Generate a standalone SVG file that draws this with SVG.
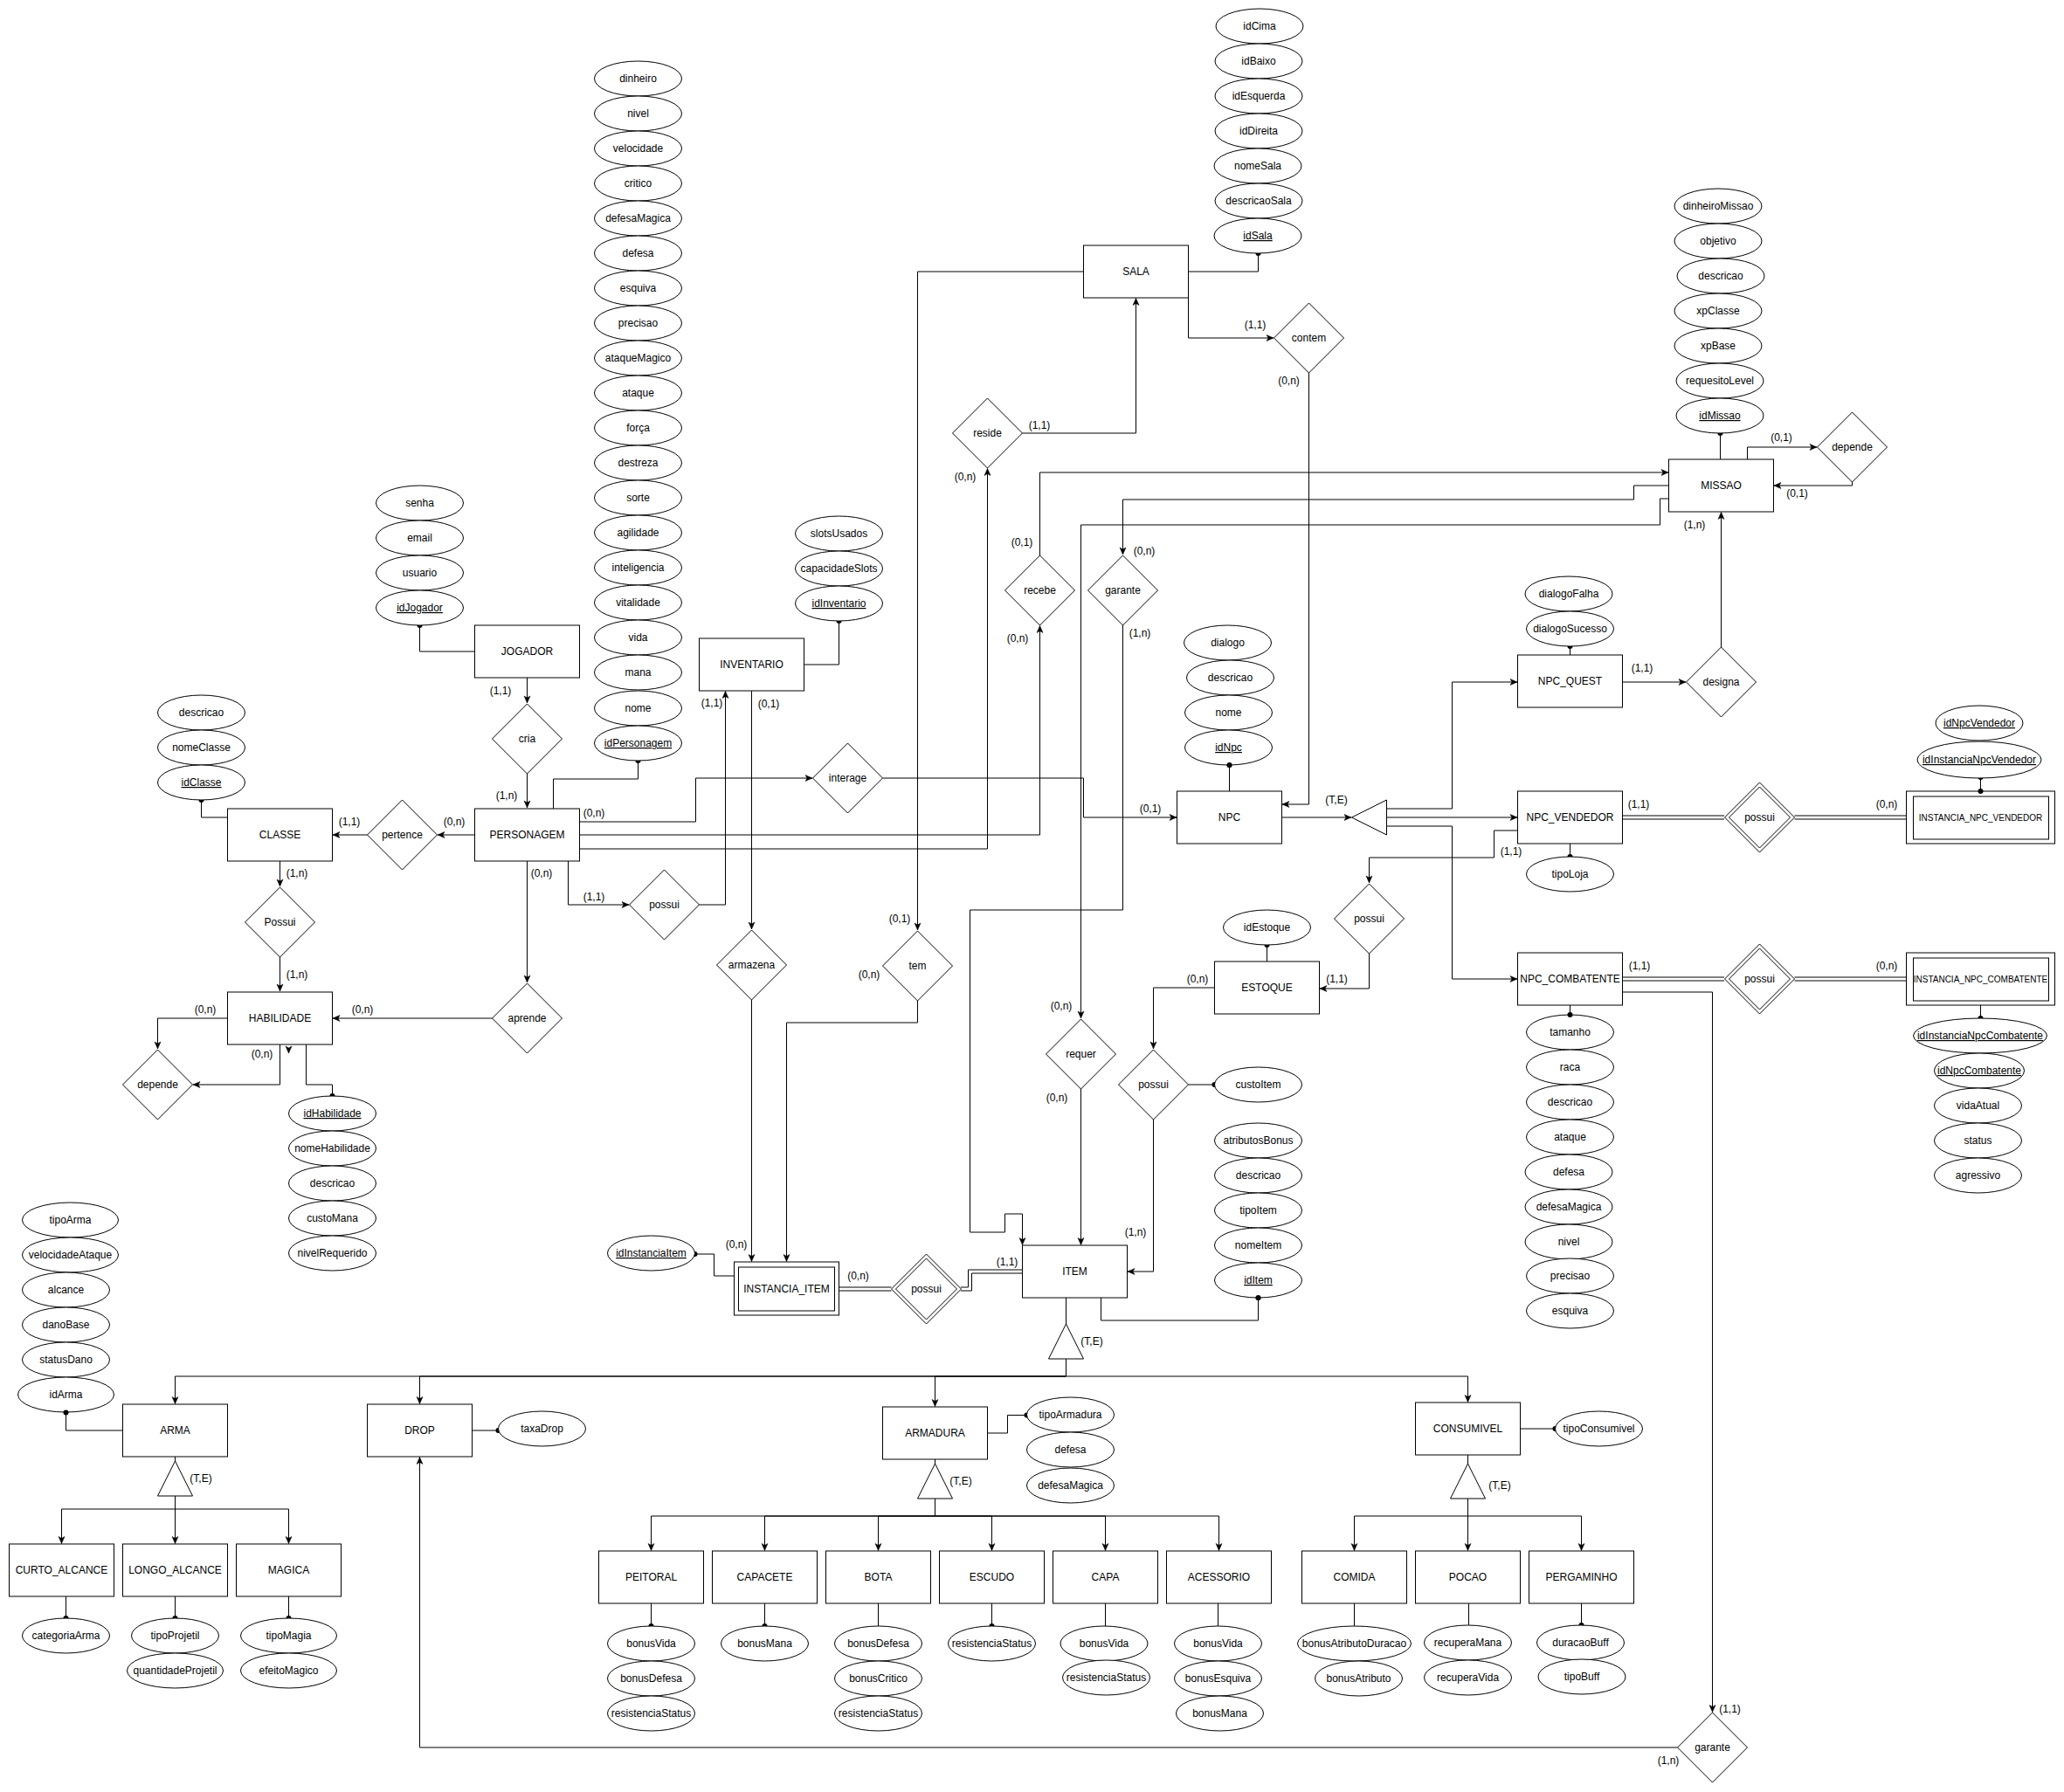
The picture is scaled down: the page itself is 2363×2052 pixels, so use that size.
<svg xmlns="http://www.w3.org/2000/svg" width="2363" height="2052" viewBox="0 0 2363 2052">
<style>
text{font-family:"Liberation Sans",Arial,sans-serif;font-size:12px;fill:#000;text-anchor:middle}
.u{text-decoration:underline}
.s{font-size:10px}
rect,ellipse,polygon.n{fill:#fff;stroke:#000;stroke-width:1}
#connectors path{fill:none;stroke:#000;stroke-width:1}
#connectors path.a{marker-end:url(#arrow)}
#connectors path.o{marker-end:url(#dot)}
</style>
<defs>
<marker id="arrow" markerUnits="userSpaceOnUse" markerWidth="9" markerHeight="9" refX="8" refY="4" orient="auto" overflow="visible"><path d="M8,4 L0,0.5 L2,4 L0,7.5 Z" fill="#000" stroke="#000" stroke-width="0.5"/></marker>
<marker id="dot" markerUnits="userSpaceOnUse" markerWidth="8" markerHeight="8" refX="4" refY="4" orient="auto"><circle cx="4" cy="4" r="3" fill="#000"/></marker>
</defs>
<rect x="0" y="0" width="2363" height="2052" style="stroke:none"/>
<g id="connectors">
<path class="o" d="M543.5,746H480.5V716"/>
<path class="a" d="M603.5,776V805"/>
<path class="a" d="M603.5,886V925"/>
<path class="o" d="M633.5,926V892H730.5V871"/>
<path class="a" d="M543.5,956H501"/>
<path class="a" d="M420.5,956H381"/>
<path class="o" d="M260.5,936H230.5V916"/>
<path class="a" d="M320.5,986V1015"/>
<path class="a" d="M320.5,1096V1135"/>
<path class="a" d="M603.5,986V1125"/>
<path class="a" d="M563.5,1166H381"/>
<path class="a" d="M260.5,1166H180.5V1201"/>
<path class="a" d="M320.5,1196V1242H221"/>
<path class="a" d="M330.5,1200V1206"/>
<path class="o" d="M350.5,1196V1242H380.5V1255"/>
<path class="a" d="M650.5,986V1036H720"/>
<path class="a" d="M800.5,1036H830.5V791.5"/>
<path class="a" d="M663.5,941H796.5V891H930"/>
<path class="a" d="M1010.5,891H1240.5V936H1347"/>
<path class="a" d="M663.5,956H1190.5V716.5"/>
<path class="a" d="M663.5,972H1130.5V536.5"/>
<path class="o" d="M920.5,761H960.5V711"/>
<path class="a" d="M860.5,791V1064"/>
<path class="a" d="M860.5,1145V1444.5"/>
<path class="a" d="M1170.5,496H1300.5V341.5"/>
<path class="a" d="M1240.5,311H1050.5V1065"/>
<path class="a" d="M1050.5,1146V1171H900.5V1444.5"/>
<path class="o" d="M1360.5,311H1440.5V290"/>
<path class="a" d="M1360.5,341V387H1458"/>
<path class="a" d="M1498.5,427V921H1468"/>
<path class="a" d="M1190.5,636V541H1910"/>
<path class="a" d="M1910.5,556H1870.5V572H1285.5V635"/>
<path class="a" d="M1910.5,571H1900.5V601H1237.5V1166"/>
<path class="a" d="M1237.5,1247V1425.5"/>
<path class="a" d="M1285.5,716V1042H1110.5V1411H1150.5V1390H1170.5V1425.5"/>
<path class="o" d="M1407.5,906V876"/>
<path class="a" d="M1467.5,936H1547"/>
<path class="a" d="M1587.5,926H1662.5V781H1737"/>
<path class="a" d="M1587.5,936H1737"/>
<path class="a" d="M1587.5,946H1662.5V1121H1737"/>
<path class="o" d="M1797.5,750V740"/>
<path class="a" d="M1857.5,781H1930"/>
<path class="a" d="M1970.5,741V586.5"/>
<path class="o" d="M1969.5,526V496"/>
<path class="a" d="M2000.5,526V512H2080"/>
<path class="a" d="M2120.5,552V556H2031"/>
<path class="o" d="M1797.5,966V981"/>
<path class="a" d="M1737.5,951H1710.5V982H1567.5V1011"/>
<path class="a" d="M1567.5,1092V1132H1511"/>
<path class="a" d="M1390.5,1131H1320.5V1201"/>
<path class="a" d="M1320.5,1282V1456H1291"/>
<path class="o" d="M1360.5,1242H1390.5"/>
<path class="o" d="M1450.5,1101V1082"/>
<path class="o" d="M1260.5,1486V1512H1440.5V1486"/>
<path d="M1857.5,934H1974M1857.5,938H1974M2054.5,934H2182.5M2054.5,938H2182.5"/>
<path d="M1857.5,1119H1974M1857.5,1123H1974M2054.5,1119H2182.5M2054.5,1123H2182.5"/>
<path d="M960.5,1474H1020.5M960.5,1478H1020.5"/>
<path d="M1100,1474H1108.5V1454H1170.5M1100,1478H1112.5V1458H1170.5"/>
<path class="o" d="M2267.5,906V890"/>
<path class="o" d="M2267.5,1151V1166"/>
<path d="M1797.5,1151V1162"/>
<path class="a" d="M1857.5,1136H1960.5V1960.5"/>
<path class="a" d="M1920.5,2001H480.5V1668.5"/>
<path class="o" d="M840.5,1461H817.5V1436H795.5"/>
<path d="M1220.5,1486V1516"/>
<path d="M1220.5,1556V1576"/>
<path class="a" d="M1220.5,1576H200.5V1607.5"/>
<path class="a" d="M1220.5,1576H480.5V1607.5"/>
<path class="a" d="M1220.5,1576H1070.5V1610.5"/>
<path class="a" d="M1220.5,1576H1680.5V1605.5"/>
<path d="M140.5,1638H75.5V1617"/>
<path class="o" d="M540.5,1638H570.5"/>
<path d="M200.5,1668V1673"/>
<path class="a" d="M200.5,1713V1767.5"/>
<path class="a" d="M200.5,1728H70.5V1767.5"/>
<path class="a" d="M200.5,1728H330.5V1767.5"/>
<path class="o" d="M75.5,1828V1853"/>
<path class="o" d="M200.5,1828V1853"/>
<path class="o" d="M330.5,1828V1853"/>
<path class="o" d="M1130.5,1641H1153.5V1620.5H1175.5"/>
<path d="M1070.5,1671V1676"/>
<path d="M1070.5,1716V1736"/>
<path class="a" d="M1070.5,1736H745.5V1775.5"/>
<path class="a" d="M1070.5,1736H875.5V1775.5"/>
<path class="a" d="M1070.5,1736H1005.5V1775.5"/>
<path class="a" d="M1070.5,1736H1135.5V1775.5"/>
<path class="a" d="M1070.5,1736H1265.5V1775.5"/>
<path class="a" d="M1070.5,1736H1395.5V1775.5"/>
<path class="o" d="M745.5,1836V1862"/>
<path class="o" d="M875.5,1836V1862"/>
<path d="M1005.5,1836V1862"/>
<path class="o" d="M1135.5,1836V1862"/>
<path d="M1265.5,1836V1862"/>
<path d="M1394.5,1836V1862"/>
<path d="M1550.5,1836V1862"/>
<path class="o" d="M1740.5,1636H1780.5"/>
<path d="M1680.5,1666V1676"/>
<path class="a" d="M1680.5,1716V1775.5"/>
<path class="a" d="M1680.5,1736H1550.5V1775.5"/>
<path class="a" d="M1680.5,1736H1810.5V1775.5"/>
<path d="M1681.5,1836V1861"/>
<path class="o" d="M1810.5,1836V1861"/>
</g>
<g id="nodes">
<g id="e-jogador"><rect x="543.5" y="716" width="120" height="60"/><text x="603.5" y="750">JOGADOR</text></g>
<g id="e-personagem"><rect x="543.5" y="926" width="120" height="60"/><text x="603.5" y="960">PERSONAGEM</text></g>
<g id="e-classe"><rect x="260.5" y="926" width="120" height="60"/><text x="320.5" y="960">CLASSE</text></g>
<g id="e-habilidade"><rect x="260.5" y="1136" width="120" height="60"/><text x="320.5" y="1170">HABILIDADE</text></g>
<g id="e-inventario"><rect x="800.5" y="731" width="120" height="60"/><text x="860.5" y="765">INVENTARIO</text></g>
<g id="e-sala"><rect x="1240.5" y="281" width="120" height="60"/><text x="1300.5" y="315">SALA</text></g>
<g id="e-missao"><rect x="1910.5" y="526" width="120" height="60"/><text x="1970.5" y="560">MISSAO</text></g>
<g id="e-npc"><rect x="1347.5" y="906" width="120" height="60"/><text x="1407.5" y="940">NPC</text></g>
<g id="e-npc-quest"><rect x="1737.5" y="750" width="120" height="60"/><text x="1797.5" y="784">NPC_QUEST</text></g>
<g id="e-npc-vendedor"><rect x="1737.5" y="906" width="120" height="60"/><text x="1797.5" y="940">NPC_VENDEDOR</text></g>
<g id="e-npc-combatente"><rect x="1737.5" y="1091" width="120" height="60"/><text x="1797.5" y="1125">NPC_COMBATENTE</text></g>
<g id="e-inst-vendedor"><rect x="2182.5" y="906" width="170" height="60"/><rect x="2190.5" y="912" width="155" height="49"/><text class="s" x="2267.5" y="940">INSTANCIA_NPC_VENDEDOR</text></g>
<g id="e-inst-combatente"><rect x="2182.5" y="1091" width="170" height="60"/><rect x="2190.5" y="1097" width="155" height="49"/><text class="s" x="2267.5" y="1125">INSTANCIA_NPC_COMBATENTE</text></g>
<g id="e-estoque"><rect x="1390.5" y="1101" width="120" height="60"/><text x="1450.5" y="1135">ESTOQUE</text></g>
<g id="e-item"><rect x="1170.5" y="1426" width="120" height="60"/><text x="1230.5" y="1460">ITEM</text></g>
<g id="e-inst-item"><rect x="840.5" y="1445" width="120" height="61"/><rect x="845.5" y="1451" width="110" height="50"/><text x="900.5" y="1480">INSTANCIA_ITEM</text></g>
<g id="e-arma"><rect x="140.5" y="1608" width="120" height="60"/><text x="200.5" y="1642">ARMA</text></g>
<g id="e-drop"><rect x="420.5" y="1608" width="120" height="60"/><text x="480.5" y="1642">DROP</text></g>
<g id="e-armadura"><rect x="1010.5" y="1611" width="120" height="60"/><text x="1070.5" y="1645">ARMADURA</text></g>
<g id="e-consumivel"><rect x="1620.5" y="1606" width="120" height="60"/><text x="1680.5" y="1640">CONSUMIVEL</text></g>
<g id="e-curto"><rect x="10.5" y="1768" width="120" height="60"/><text x="70.5" y="1802">CURTO_ALCANCE</text></g>
<g id="e-longo"><rect x="140.5" y="1768" width="120" height="60"/><text x="200.5" y="1802">LONGO_ALCANCE</text></g>
<g id="e-magica"><rect x="270.5" y="1768" width="120" height="60"/><text x="330.5" y="1802">MAGICA</text></g>
<g id="e-peitoral"><rect x="685.5" y="1776" width="120" height="60"/><text x="745.5" y="1810">PEITORAL</text></g>
<g id="e-capacete"><rect x="815.5" y="1776" width="120" height="60"/><text x="875.5" y="1810">CAPACETE</text></g>
<g id="e-bota"><rect x="945.5" y="1776" width="120" height="60"/><text x="1005.5" y="1810">BOTA</text></g>
<g id="e-escudo"><rect x="1075.5" y="1776" width="120" height="60"/><text x="1135.5" y="1810">ESCUDO</text></g>
<g id="e-capa"><rect x="1205.5" y="1776" width="120" height="60"/><text x="1265.5" y="1810">CAPA</text></g>
<g id="e-acessorio"><rect x="1335.5" y="1776" width="120" height="60"/><text x="1395.5" y="1810">ACESSORIO</text></g>
<g id="e-comida"><rect x="1490.5" y="1776" width="120" height="60"/><text x="1550.5" y="1810">COMIDA</text></g>
<g id="e-pocao"><rect x="1620.5" y="1776" width="120" height="60"/><text x="1680.5" y="1810">POCAO</text></g>
<g id="e-pergaminho"><rect x="1750.5" y="1776" width="120" height="60"/><text x="1810.5" y="1810">PERGAMINHO</text></g>

<g id="r-cria"><polygon class="n" points="603.5,806 643.5,846 603.5,886 563.5,846"/><text x="603.5" y="850">cria</text></g>
<g id="r-pertence"><polygon class="n" points="460.5,916 500.5,956 460.5,996 420.5,956"/><text x="460.5" y="960">pertence</text></g>
<g id="r-possui-classe"><polygon class="n" points="320.5,1016 360.5,1056 320.5,1096 280.5,1056"/><text x="320.5" y="1060">Possui</text></g>
<g id="r-depende-hab"><polygon class="n" points="180.5,1202 220.5,1242 180.5,1282 140.5,1242"/><text x="180.5" y="1246">depende</text></g>
<g id="r-aprende"><polygon class="n" points="603.5,1126 643.5,1166 603.5,1206 563.5,1166"/><text x="603.5" y="1170">aprende</text></g>
<g id="r-possui-inv"><polygon class="n" points="760.5,996 800.5,1036 760.5,1076 720.5,1036"/><text x="760.5" y="1040">possui</text></g>
<g id="r-interage"><polygon class="n" points="970.5,851 1010.5,891 970.5,931 930.5,891"/><text x="970.5" y="895">interage</text></g>
<g id="r-armazena"><polygon class="n" points="860.5,1065 900.5,1105 860.5,1145 820.5,1105"/><text x="860.5" y="1109">armazena</text></g>
<g id="r-tem"><polygon class="n" points="1050.5,1066 1090.5,1106 1050.5,1146 1010.5,1106"/><text x="1050.5" y="1110">tem</text></g>
<g id="r-reside"><polygon class="n" points="1130.5,456 1170.5,496 1130.5,536 1090.5,496"/><text x="1130.5" y="500">reside</text></g>
<g id="r-contem"><polygon class="n" points="1498.5,347 1538.5,387 1498.5,427 1458.5,387"/><text x="1498.5" y="391">contem</text></g>
<g id="r-recebe"><polygon class="n" points="1190.5,636 1230.5,676 1190.5,716 1150.5,676"/><text x="1190.5" y="680">recebe</text></g>
<g id="r-garante-missao"><polygon class="n" points="1285.5,636 1325.5,676 1285.5,716 1245.5,676"/><text x="1285.5" y="680">garante</text></g>
<g id="r-requer"><polygon class="n" points="1237.5,1167 1277.5,1207 1237.5,1247 1197.5,1207"/><text x="1237.5" y="1211">requer</text></g>
<g id="r-possui-item"><polygon class="n" points="1320.5,1202 1360.5,1242 1320.5,1282 1280.5,1242"/><text x="1320.5" y="1246">possui</text></g>
<g id="r-possui-estoque"><polygon class="n" points="1567.5,1012 1607.5,1052 1567.5,1092 1527.5,1052"/><text x="1567.5" y="1056">possui</text></g>
<g id="r-designa"><polygon class="n" points="1970.5,741 2010.5,781 1970.5,821 1930.5,781"/><text x="1970.5" y="785">designa</text></g>
<g id="r-depende-missao"><polygon class="n" points="2120.5,472 2160.5,512 2120.5,552 2080.5,512"/><text x="2120.5" y="516">depende</text></g>
<g id="r-garante-drop"><polygon class="n" points="1960.5,1961 2000.5,2001 1960.5,2041 1920.5,2001"/><text x="1960.5" y="2005">garante</text></g>
<g id="r-possui-vend"><polygon class="n" points="2014.5,896 2054.5,936 2014.5,976 1974.5,936"/><polygon class="n" points="2014.5,901 2049.5,936 2014.5,971 1979.5,936"/><text x="2014.5" y="940">possui</text></g>
<g id="r-possui-comb"><polygon class="n" points="2014.5,1081 2054.5,1121 2014.5,1161 1974.5,1121"/><polygon class="n" points="2014.5,1086 2049.5,1121 2014.5,1156 1979.5,1121"/><text x="2014.5" y="1125">possui</text></g>
<g id="r-possui-instancia"><polygon class="n" points="1060.5,1436 1100.5,1476 1060.5,1516 1020.5,1476"/><polygon class="n" points="1060.5,1441 1095.5,1476 1060.5,1511 1025.5,1476"/><text x="1060.5" y="1480">possui</text></g>

<g id="s-npc"><polygon class="n" points="1547.5,936 1587.5,916 1587.5,956"/></g>
<g id="s-item"><polygon class="n" points="1220.5,1516 1240.5,1556 1200.5,1556"/></g>
<g id="s-arma"><polygon class="n" points="200.5,1673 220.5,1713 180.5,1713"/></g>
<g id="s-armadura"><polygon class="n" points="1070.5,1676 1090.5,1716 1050.5,1716"/></g>
<g id="s-consumivel"><polygon class="n" points="1680.5,1676 1700.5,1716 1660.5,1716"/></g>

<g id="a-senha"><ellipse cx="480.5" cy="576" rx="50" ry="20"/><text x="480.5" y="580">senha</text></g>
<g id="a-email"><ellipse cx="480.5" cy="616" rx="50" ry="20"/><text x="480.5" y="620">email</text></g>
<g id="a-usuario"><ellipse cx="480.5" cy="656" rx="50" ry="20"/><text x="480.5" y="660">usuario</text></g>
<g id="a-idjogador"><ellipse cx="480.5" cy="696" rx="50" ry="20"/><text class="u" x="480.5" y="700">idJogador</text></g>

<g id="a-dinheiro"><ellipse cx="730.5" cy="90" rx="50" ry="20"/><text x="730.5" y="94">dinheiro</text></g>
<g id="a-nivel"><ellipse cx="730.5" cy="130" rx="50" ry="20"/><text x="730.5" y="134">nivel</text></g>
<g id="a-velocidade"><ellipse cx="730.5" cy="170" rx="50" ry="20"/><text x="730.5" y="174">velocidade</text></g>
<g id="a-critico"><ellipse cx="730.5" cy="210" rx="50" ry="20"/><text x="730.5" y="214">critico</text></g>
<g id="a-defesamagica"><ellipse cx="730.5" cy="250" rx="50" ry="20"/><text x="730.5" y="254">defesaMagica</text></g>
<g id="a-defesa"><ellipse cx="730.5" cy="290" rx="50" ry="20"/><text x="730.5" y="294">defesa</text></g>
<g id="a-esquiva"><ellipse cx="730.5" cy="330" rx="50" ry="20"/><text x="730.5" y="334">esquiva</text></g>
<g id="a-precisao"><ellipse cx="730.5" cy="370" rx="50" ry="20"/><text x="730.5" y="374">precisao</text></g>
<g id="a-ataquemagico"><ellipse cx="730.5" cy="410" rx="50" ry="20"/><text x="730.5" y="414">ataqueMagico</text></g>
<g id="a-ataque"><ellipse cx="730.5" cy="450" rx="50" ry="20"/><text x="730.5" y="454">ataque</text></g>
<g id="a-forca"><ellipse cx="730.5" cy="490" rx="50" ry="20"/><text x="730.5" y="494">força</text></g>
<g id="a-destreza"><ellipse cx="730.5" cy="530" rx="50" ry="20"/><text x="730.5" y="534">destreza</text></g>
<g id="a-sorte"><ellipse cx="730.5" cy="570" rx="50" ry="20"/><text x="730.5" y="574">sorte</text></g>
<g id="a-agilidade"><ellipse cx="730.5" cy="610" rx="50" ry="20"/><text x="730.5" y="614">agilidade</text></g>
<g id="a-inteligencia"><ellipse cx="730.5" cy="650" rx="50" ry="20"/><text x="730.5" y="654">inteligencia</text></g>
<g id="a-vitalidade"><ellipse cx="730.5" cy="690" rx="50" ry="20"/><text x="730.5" y="694">vitalidade</text></g>
<g id="a-vida"><ellipse cx="730.5" cy="730" rx="50" ry="20"/><text x="730.5" y="734">vida</text></g>
<g id="a-mana"><ellipse cx="730.5" cy="770" rx="50" ry="20"/><text x="730.5" y="774">mana</text></g>
<g id="a-nome"><ellipse cx="730.5" cy="811" rx="50" ry="20"/><text x="730.5" y="815">nome</text></g>
<g id="a-idpersonagem"><ellipse cx="730.5" cy="851" rx="50" ry="20"/><text class="u" x="730.5" y="855">idPersonagem</text></g>

<g id="a-classe-descricao"><ellipse cx="230.5" cy="816" rx="50" ry="20"/><text x="230.5" y="820">descricao</text></g>
<g id="a-nomeclasse"><ellipse cx="230.5" cy="856" rx="50" ry="20"/><text x="230.5" y="860">nomeClasse</text></g>
<g id="a-idclasse"><ellipse cx="230.5" cy="896" rx="50" ry="20"/><text class="u" x="230.5" y="900">idClasse</text></g>

<g id="a-idhabilidade"><ellipse cx="380.5" cy="1275" rx="50" ry="20"/><text class="u" x="380.5" y="1279">idHabilidade</text></g>
<g id="a-nomehabilidade"><ellipse cx="380.5" cy="1315" rx="50" ry="20"/><text x="380.5" y="1319">nomeHabilidade</text></g>
<g id="a-hab-descricao"><ellipse cx="380.5" cy="1355" rx="50" ry="20"/><text x="380.5" y="1359">descricao</text></g>
<g id="a-customana"><ellipse cx="380.5" cy="1395" rx="50" ry="20"/><text x="380.5" y="1399">custoMana</text></g>
<g id="a-nivelrequerido"><ellipse cx="380.5" cy="1435" rx="50" ry="20"/><text x="380.5" y="1439">nivelRequerido</text></g>

<g id="a-slotsusados"><ellipse cx="960.5" cy="611" rx="50" ry="20"/><text x="960.5" y="615">slotsUsados</text></g>
<g id="a-capacidadeslots"><ellipse cx="960.5" cy="651" rx="50" ry="20"/><text x="960.5" y="655">capacidadeSlots</text></g>
<g id="a-idinventario"><ellipse cx="960.5" cy="691" rx="50" ry="20"/><text class="u" x="960.5" y="695">idInventario</text></g>

<g id="a-idcima"><ellipse cx="1442" cy="30" rx="50" ry="20"/><text x="1442" y="34">idCima</text></g>
<g id="a-idbaixo"><ellipse cx="1441" cy="70" rx="50" ry="20"/><text x="1441" y="74">idBaixo</text></g>
<g id="a-idesquerda"><ellipse cx="1441" cy="110" rx="50" ry="20"/><text x="1441" y="114">idEsquerda</text></g>
<g id="a-iddireita"><ellipse cx="1441" cy="150" rx="50" ry="20"/><text x="1441" y="154">idDireita</text></g>
<g id="a-nomesala"><ellipse cx="1440" cy="190" rx="50" ry="20"/><text x="1440" y="194">nomeSala</text></g>
<g id="a-descricaosala"><ellipse cx="1441" cy="230" rx="50" ry="20"/><text x="1441" y="234">descricaoSala</text></g>
<g id="a-idsala"><ellipse cx="1440" cy="270" rx="50" ry="20"/><text class="u" x="1440" y="274">idSala</text></g>

<g id="a-dinheiromissao"><ellipse cx="1967" cy="236" rx="50" ry="20"/><text x="1967" y="240">dinheiroMissao</text></g>
<g id="a-objetivo"><ellipse cx="1967" cy="276" rx="50" ry="20"/><text x="1967" y="280">objetivo</text></g>
<g id="a-missao-descricao"><ellipse cx="1970" cy="316" rx="50" ry="20"/><text x="1970" y="320">descricao</text></g>
<g id="a-xpclasse"><ellipse cx="1967" cy="356" rx="50" ry="20"/><text x="1967" y="360">xpClasse</text></g>
<g id="a-xpbase"><ellipse cx="1967" cy="396" rx="50" ry="20"/><text x="1967" y="400">xpBase</text></g>
<g id="a-requesitolevel"><ellipse cx="1969" cy="436" rx="50" ry="20"/><text x="1969" y="440">requesitoLevel</text></g>
<g id="a-idmissao"><ellipse cx="1969" cy="476" rx="50" ry="20"/><text class="u" x="1969" y="480">idMissao</text></g>

<g id="a-dialogofalha"><ellipse cx="1796" cy="680" rx="50" ry="20"/><text x="1796" y="684">dialogoFalha</text></g>
<g id="a-dialogosucesso"><ellipse cx="1797.5" cy="720" rx="50" ry="20"/><text x="1797.5" y="724">dialogoSucesso</text></g>

<g id="a-dialogo"><ellipse cx="1405.5" cy="736" rx="50" ry="20"/><text x="1405.5" y="740">dialogo</text></g>
<g id="a-npc-descricao"><ellipse cx="1408.5" cy="776" rx="50" ry="20"/><text x="1408.5" y="780">descricao</text></g>
<g id="a-npc-nome"><ellipse cx="1406.5" cy="816" rx="50" ry="20"/><text x="1406.5" y="820">nome</text></g>
<g id="a-idnpc"><ellipse cx="1406.5" cy="856" rx="50" ry="20"/><text class="u" x="1406.5" y="860">idNpc</text></g>

<g id="a-idnpcvendedor"><ellipse cx="2266" cy="828" rx="50" ry="20"/><text class="u" x="2266" y="832">idNpcVendedor</text></g>
<g id="a-idinstnpcvendedor"><ellipse cx="2266" cy="870" rx="71" ry="21"/><text class="u" x="2266" y="874">idInstanciaNpcVendedor</text></g>
<g id="a-tipoloja"><ellipse cx="1797.5" cy="1001" rx="50" ry="20"/><text x="1797.5" y="1005">tipoLoja</text></g>

<g id="a-tamanho"><ellipse cx="1797.5" cy="1182" rx="50" ry="20"/><text x="1797.5" y="1186">tamanho</text></g>
<g id="a-raca"><ellipse cx="1797.5" cy="1222" rx="50" ry="20"/><text x="1797.5" y="1226">raca</text></g>
<g id="a-comb-descricao"><ellipse cx="1797.5" cy="1262" rx="50" ry="20"/><text x="1797.5" y="1266">descricao</text></g>
<g id="a-comb-ataque"><ellipse cx="1797.5" cy="1302" rx="50" ry="20"/><text x="1797.5" y="1306">ataque</text></g>
<g id="a-comb-defesa"><ellipse cx="1796" cy="1342" rx="50" ry="20"/><text x="1796" y="1346">defesa</text></g>
<g id="a-comb-defesamagica"><ellipse cx="1796" cy="1382" rx="50" ry="20"/><text x="1796" y="1386">defesaMagica</text></g>
<g id="a-comb-nivel"><ellipse cx="1796" cy="1422" rx="50" ry="20"/><text x="1796" y="1426">nivel</text></g>
<g id="a-comb-precisao"><ellipse cx="1797.5" cy="1461" rx="50" ry="20"/><text x="1797.5" y="1465">precisao</text></g>
<g id="a-comb-esquiva"><ellipse cx="1797.5" cy="1501" rx="50" ry="20"/><text x="1797.5" y="1505">esquiva</text></g>

<g id="a-idinstnpccomb"><ellipse cx="2267" cy="1186" rx="76.5" ry="20"/><text class="u" x="2267" y="1190">idInstanciaNpcCombatente</text></g>
<g id="a-idnpccomb"><ellipse cx="2266" cy="1226" rx="51.5" ry="20"/><text class="u" x="2266" y="1230">idNpcCombatente</text></g>
<g id="a-vidaatual"><ellipse cx="2264.5" cy="1266" rx="50" ry="20"/><text x="2264.5" y="1270">vidaAtual</text></g>
<g id="a-status"><ellipse cx="2264.5" cy="1306" rx="50" ry="20"/><text x="2264.5" y="1310">status</text></g>
<g id="a-agressivo"><ellipse cx="2264.5" cy="1346" rx="50" ry="20"/><text x="2264.5" y="1350">agressivo</text></g>

<g id="a-idestoque"><ellipse cx="1450.5" cy="1062" rx="50" ry="20"/><text x="1450.5" y="1066">idEstoque</text></g>
<g id="a-custoitem"><ellipse cx="1440.5" cy="1242" rx="50" ry="20"/><text x="1440.5" y="1246">custoItem</text></g>

<g id="a-atributosbonus"><ellipse cx="1440.5" cy="1306" rx="50" ry="20"/><text x="1440.5" y="1310">atributosBonus</text></g>
<g id="a-item-descricao"><ellipse cx="1440.5" cy="1346" rx="50" ry="20"/><text x="1440.5" y="1350">descricao</text></g>
<g id="a-tipoitem"><ellipse cx="1440.5" cy="1386" rx="50" ry="20"/><text x="1440.5" y="1390">tipoItem</text></g>
<g id="a-nomeitem"><ellipse cx="1440.5" cy="1426" rx="50" ry="20"/><text x="1440.5" y="1430">nomeItem</text></g>
<g id="a-iditem"><ellipse cx="1440.5" cy="1466" rx="50" ry="20"/><text class="u" x="1440.5" y="1470">idItem</text></g>
<g id="a-idinstanciaitem"><ellipse cx="745.5" cy="1435" rx="50" ry="20"/><text class="u" x="745.5" y="1439">idInstanciaItem</text></g>

<g id="a-tipoarma"><ellipse cx="80.5" cy="1397" rx="55" ry="20"/><text x="80.5" y="1401">tipoArma</text></g>
<g id="a-velocidadeataque"><ellipse cx="80.5" cy="1437" rx="55" ry="20"/><text x="80.5" y="1441">velocidadeAtaque</text></g>
<g id="a-alcance"><ellipse cx="75.5" cy="1477" rx="50" ry="20"/><text x="75.5" y="1481">alcance</text></g>
<g id="a-danobase"><ellipse cx="75.5" cy="1517" rx="50" ry="20"/><text x="75.5" y="1521">danoBase</text></g>
<g id="a-statusdano"><ellipse cx="75.5" cy="1557" rx="50" ry="20"/><text x="75.5" y="1561">statusDano</text></g>
<g id="a-idarma"><ellipse cx="75.5" cy="1597" rx="55" ry="20"/><text x="75.5" y="1601">idArma</text></g>
<g id="a-taxadrop"><ellipse cx="620.5" cy="1636" rx="50" ry="20"/><text x="620.5" y="1640">taxaDrop</text></g>
<g id="a-categoriaarma"><ellipse cx="75.5" cy="1873" rx="50" ry="20"/><text x="75.5" y="1877">categoriaArma</text></g>
<g id="a-tipoprojetil"><ellipse cx="200.5" cy="1873" rx="50" ry="20"/><text x="200.5" y="1877">tipoProjetil</text></g>
<g id="a-quantidadeprojetil"><ellipse cx="200.5" cy="1913" rx="55" ry="20"/><text x="200.5" y="1917">quantidadeProjetil</text></g>
<g id="a-tipomagia"><ellipse cx="330.5" cy="1873" rx="55" ry="20"/><text x="330.5" y="1877">tipoMagia</text></g>
<g id="a-efeitomagico"><ellipse cx="330.5" cy="1913" rx="55" ry="20"/><text x="330.5" y="1917">efeitoMagico</text></g>

<g id="a-tipoarmadura"><ellipse cx="1225.5" cy="1620" rx="50" ry="20"/><text x="1225.5" y="1624">tipoArmadura</text></g>
<g id="a-arm-defesa"><ellipse cx="1225.5" cy="1660" rx="50" ry="20"/><text x="1225.5" y="1664">defesa</text></g>
<g id="a-arm-defesamagica"><ellipse cx="1225.5" cy="1701" rx="50" ry="20"/><text x="1225.5" y="1705">defesaMagica</text></g>
<g id="a-tipoconsumivel"><ellipse cx="1830.5" cy="1636" rx="50" ry="20"/><text x="1830.5" y="1640">tipoConsumivel</text></g>

<g id="a-pei-bonusvida"><ellipse cx="745.5" cy="1882" rx="50" ry="20"/><text x="745.5" y="1886">bonusVida</text></g>
<g id="a-pei-bonusdefesa"><ellipse cx="745.5" cy="1922" rx="50" ry="20"/><text x="745.5" y="1926">bonusDefesa</text></g>
<g id="a-pei-resistencia"><ellipse cx="745.5" cy="1962" rx="50" ry="20"/><text x="745.5" y="1966">resistenciaStatus</text></g>
<g id="a-cap-bonusmana"><ellipse cx="875.5" cy="1882" rx="50" ry="20"/><text x="875.5" y="1886">bonusMana</text></g>
<g id="a-bot-bonusdefesa"><ellipse cx="1005.5" cy="1882" rx="50" ry="20"/><text x="1005.5" y="1886">bonusDefesa</text></g>
<g id="a-bot-bonuscritico"><ellipse cx="1005.5" cy="1922" rx="50" ry="20"/><text x="1005.5" y="1926">bonusCritico</text></g>
<g id="a-bot-resistencia"><ellipse cx="1005.5" cy="1962" rx="50" ry="20"/><text x="1005.5" y="1966">resistenciaStatus</text></g>
<g id="a-esc-resistencia"><ellipse cx="1135.5" cy="1882" rx="50" ry="20"/><text x="1135.5" y="1886">resistenciaStatus</text></g>
<g id="a-cp-bonusvida"><ellipse cx="1264" cy="1882" rx="50" ry="20"/><text x="1264" y="1886">bonusVida</text></g>
<g id="a-cp-resistencia"><ellipse cx="1266.5" cy="1921" rx="50" ry="20"/><text x="1266.5" y="1925">resistenciaStatus</text></g>
<g id="a-ace-bonusvida"><ellipse cx="1394.5" cy="1882" rx="50" ry="20"/><text x="1394.5" y="1886">bonusVida</text></g>
<g id="a-ace-bonusesquiva"><ellipse cx="1394.5" cy="1922" rx="50" ry="20"/><text x="1394.5" y="1926">bonusEsquiva</text></g>
<g id="a-ace-bonusmana"><ellipse cx="1396.5" cy="1962" rx="50" ry="20"/><text x="1396.5" y="1966">bonusMana</text></g>
<g id="a-bonusatributoduracao"><ellipse cx="1550.5" cy="1882" rx="65" ry="20"/><text x="1550.5" y="1886">bonusAtributoDuracao</text></g>
<g id="a-bonusatributo"><ellipse cx="1555.5" cy="1922" rx="50" ry="20"/><text x="1555.5" y="1926">bonusAtributo</text></g>
<g id="a-recuperamana"><ellipse cx="1680.5" cy="1881" rx="50" ry="20"/><text x="1680.5" y="1885">recuperaMana</text></g>
<g id="a-recuperavida"><ellipse cx="1680.5" cy="1921" rx="50" ry="20"/><text x="1680.5" y="1925">recuperaVida</text></g>
<g id="a-duracaobuff"><ellipse cx="1809.5" cy="1881" rx="50" ry="20"/><text x="1809.5" y="1885">duracaoBuff</text></g>
<g id="a-tipobuff"><ellipse cx="1811" cy="1920" rx="50" ry="20"/><text x="1811" y="1924">tipoBuff</text></g>
</g>
<g id="connector-dots">
<circle cx="1407.5" cy="876" r="3"/>
<circle cx="1440.5" cy="1486" r="3"/>
<circle cx="75.5" cy="1617.5" r="3"/>
<circle cx="2267.5" cy="906" r="3"/>
<circle cx="1797.5" cy="1162" r="3"/>
</g>
<g id="labels">
<text x="573" y="795">(1,1)</text>
<text x="580" y="915">(1,n)</text>
<text x="680" y="935">(0,n)</text>
<text x="520" y="945">(0,n)</text>
<text x="400" y="945">(1,1)</text>
<text x="340" y="1004">(1,n)</text>
<text x="340" y="1120">(1,n)</text>
<text x="620" y="1004">(0,n)</text>
<text x="680" y="1031">(1,1)</text>
<text x="415" y="1160">(0,n)</text>
<text x="235" y="1160">(0,n)</text>
<text x="300" y="1211">(0,n)</text>
<text x="815" y="809">(1,1)</text>
<text x="880" y="810">(0,1)</text>
<text x="843" y="1429">(0,n)</text>
<text x="1030" y="1056">(0,1)</text>
<text x="995" y="1120">(0,n)</text>
<text x="1190" y="491">(1,1)</text>
<text x="1105" y="550">(0,n)</text>
<text x="1437" y="376">(1,1)</text>
<text x="1475.5" y="440">(0,n)</text>
<text x="1170" y="625">(0,1)</text>
<text x="1165" y="735">(0,n)</text>
<text x="1310" y="635">(0,n)</text>
<text x="1305" y="729">(1,n)</text>
<text x="1317" y="930">(0,1)</text>
<text x="1530" y="920">(T,E)</text>
<text x="1215" y="1156">(0,n)</text>
<text x="1210" y="1261">(0,n)</text>
<text x="1371" y="1125">(0,n)</text>
<text x="1530.5" y="1125">(1,1)</text>
<text x="1300" y="1415">(1,n)</text>
<text x="1153" y="1449">(1,1)</text>
<text x="982.5" y="1465">(0,n)</text>
<text x="1250" y="1540">(T,E)</text>
<text x="230" y="1697">(T,E)</text>
<text x="1100" y="1700">(T,E)</text>
<text x="1717" y="1705">(T,E)</text>
<text x="1880" y="769">(1,1)</text>
<text x="1940" y="605">(1,n)</text>
<text x="2039.5" y="505">(0,1)</text>
<text x="2057.5" y="569">(0,1)</text>
<text x="1876" y="925">(1,1)</text>
<text x="2160" y="925">(0,n)</text>
<text x="1730" y="979">(1,1)</text>
<text x="1877" y="1110">(1,1)</text>
<text x="2160" y="1110">(0,n)</text>
<text x="1980.5" y="1961">(1,1)</text>
<text x="1910" y="2020">(1,n)</text>
</g>
</svg>
